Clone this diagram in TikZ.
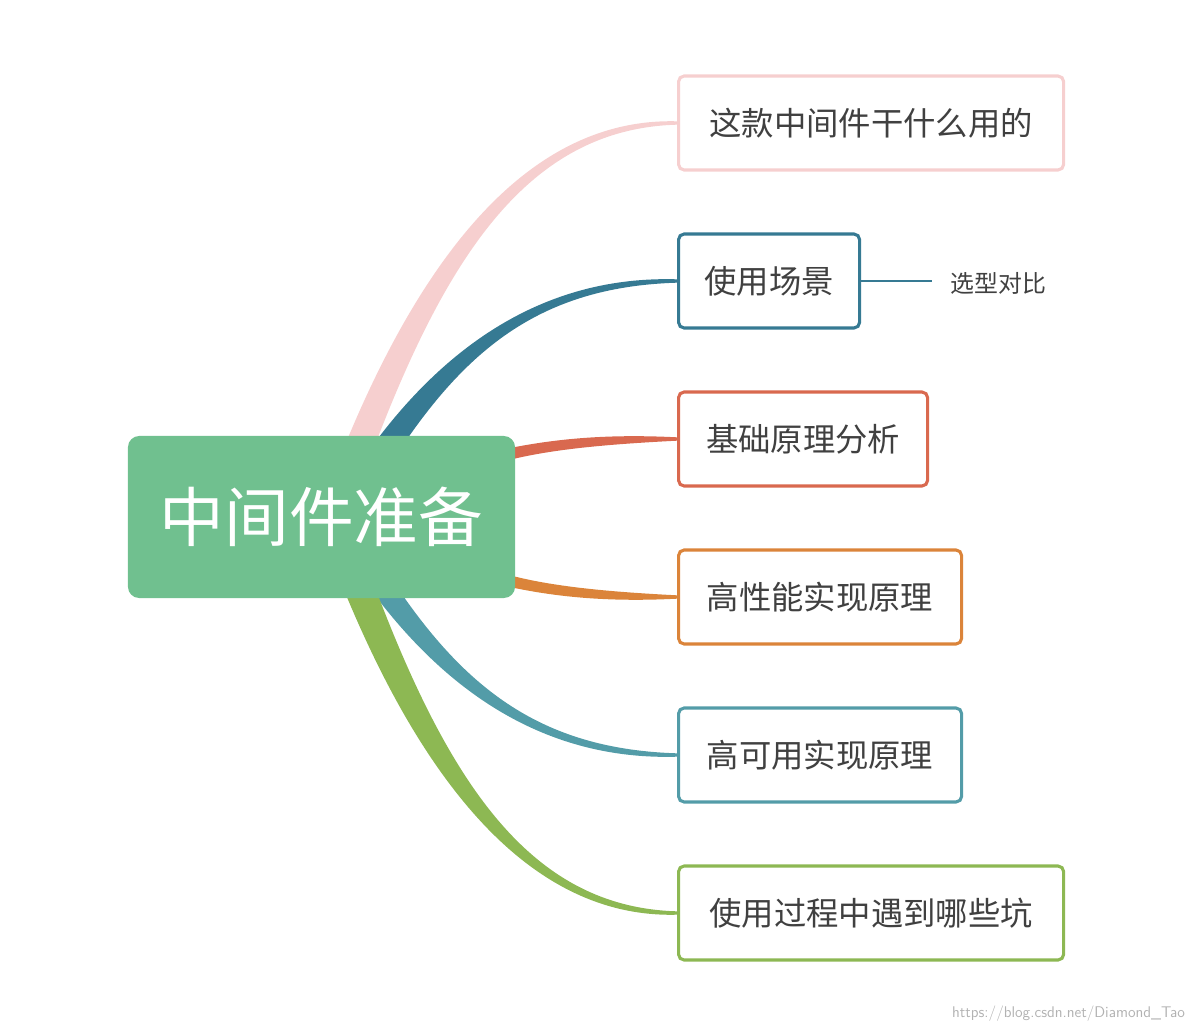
\documentclass[tikz,border=0pt]{standalone}
\usepackage{fontspec}
\newfontfamily\cjk{Noto Sans CJK SC}
\usetikzlibrary{calc,backgrounds}
\definecolor{hubgreen}{HTML}{70C08F}
\definecolor{cpink}{HTML}{F6CFCF}
\definecolor{cteal}{HTML}{367A93}
\definecolor{cred}{HTML}{D9694F}
\definecolor{corange}{HTML}{DB843A}
\definecolor{cblue}{HTML}{539CA8}
\definecolor{cgreen}{HTML}{8DB853}
\definecolor{txt}{HTML}{404040}
\tikzset{
  topic/.style={draw=#1, line width=2.2pt, rounded corners=4pt, fill=white,
    text=txt, font=\cjk\fontsize{23}{26}\selectfont, anchor=west,
    minimum height=2.35cm, inner xsep=0.55cm},
}
% tapered branch: colour, start point, start half-width offset, end point
\newcommand{\branch}[4]{%
  \fill[#1] let \p1=#2, \p2=#4, \p3=#3 in
    ($(\x1,\y1)-(\x3,\y3)$) .. controls ({\x1+0.25*(\x2-\x1)-0.8*\x3},{\y1+0.62*(\y2-\y1)-0.8*\y3})
      and ({\x1+0.55*(\x2-\x1)},{\y2+4pt}) .. ($(\x2,\y2)+(0,1.2pt)$)
    -- ($(\x2,\y2)-(0,1.2pt)$)
    .. controls ({\x1+0.55*(\x2-\x1)},{\y2-4pt}) and ({\x1+0.25*(\x2-\x1)+0.8*\x3},{\y1+0.62*(\y2-\y1)+0.8*\y3})
      .. ($(\x1,\y1)+(\x3,\y3)$) -- cycle;}
\begin{document}
\begin{tikzpicture}[x=0.025cm,y=-0.025cm]
\useasboundingbox (0,0) rectangle (1198,1032);
\node[fill=hubgreen, rounded corners=8pt, minimum width=9.675cm, minimum height=4.05cm,
  text=white, font=\cjk\fontsize{46}{50}\selectfont] (hub) at (321.5,517) {中间件准备};
\node[topic=cpink, minimum width=9.625cm] (b1) at (677,123) {这款中间件干什么用的};
\node[topic=cteal, minimum width=4.525cm] (b2) at (677,281) {使用场景};
\node[topic=cred, minimum width=6.225cm] (b3) at (677,439) {基础原理分析};
\node[topic=corange, minimum width=7.075cm] (b4) at (677,597) {高性能实现原理};
\node[topic=cblue, minimum width=7.075cm] (b5) at (677,755) {高可用实现原理};
\node[topic=cgreen, minimum width=9.625cm] (b6) at (677,913) {使用过程中遇到哪些坑};
\node[text=txt, font=\cjk\fontsize{17}{20}\selectfont, anchor=west] (s1) at (946,283) {选型对比};
\draw[cteal, line width=2pt] (b2.east) -- ([xshift=-10pt]s1.west |- b2.east);
\begin{pgfonlayer}{background}
\branch{cpink}{(360,445)}{(15,0)}{(b1.west)}
\branch{cteal}{(388,445)}{(15,0)}{(b2.west)}
\branch{cred}{(505,455)}{(0,6)}{(b3.west)}
\branch{corange}{(505,580)}{(0,6)}{(b4.west)}
\branch{cblue}{(385,590)}{(-14,0)}{(b5.west)}
\branch{cgreen}{(360,590)}{(-16,0)}{(b6.west)}
\end{pgfonlayer}
\node[text=gray!60, font=\fontsize{11}{12}\selectfont\sffamily, anchor=east] (wm) at (1190,1014) {https://blog.csdn.net/Diamond\_Tao};
\end{tikzpicture}
\end{document}
